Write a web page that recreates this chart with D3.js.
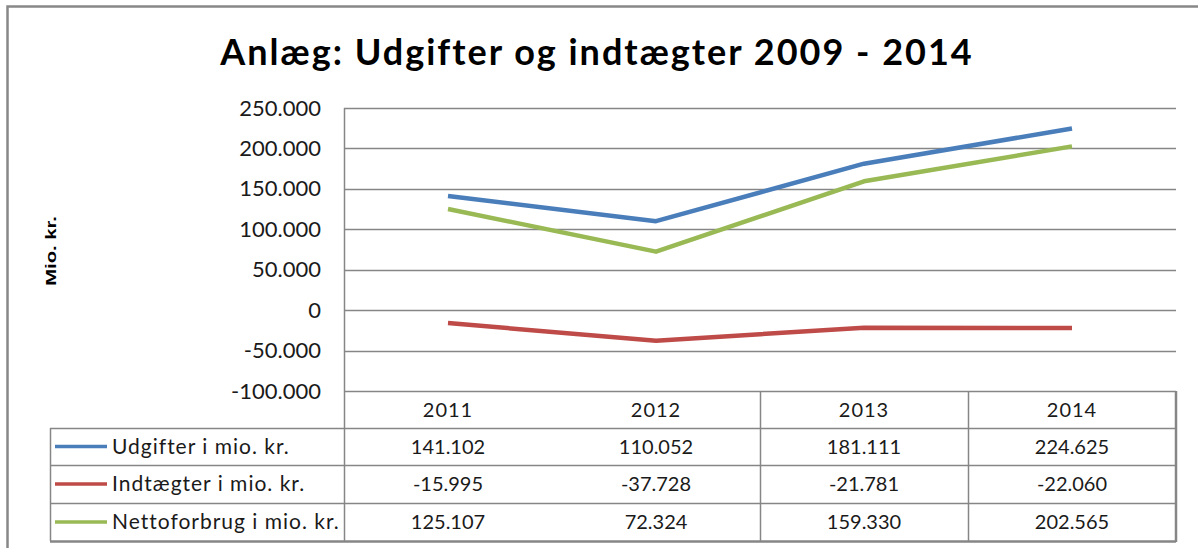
<!DOCTYPE html>
<html>
<head>
<meta charset="utf-8">
<script src="https://cdn.jsdelivr.net/npm/d3@7"></script>
<style>
  body { margin: 0; background: #fff; }
  text { font-family: Lato, "Open Sans", sans-serif; fill: #1a1a1a; }
</style>
</head>
<body>
<div id="chart"></div>
<script>
const years = ["2011", "2012", "2013", "2014"];
const seriesNames = ["Udgifter i mio. kr.", "Indtægter i mio. kr.", "Nettoforbrug i mio. kr."];
const udgifter = [141102, 110052, 181111, 224625];
const indtaegter = [-15995, -37728, -21781, -22060];
const netto = [125107, 72324, 159330, 202565];
const seriesColors = ["#4a7ebb", "#be4b48", "#98b954"];
const yTicks = [-100000, -50000, 0, 50000, 100000, 150000, 200000, 250000];

const series = [udgifter, indtaegter, netto];

const W = 1198, H = 548;
const plot = { left: 344, right: 1176, top: 108, bottom: 391 };
const rowLines = [391, 428, 465, 503, 541];
const tableLeft = 50;

const dk = d3.formatLocale({ decimal: ",", thousands: ".", grouping: [3], currency: ["", " kr."], minus: "-" });
const fmt = dk.format(",d");

const svg = d3.select("#chart")
    .append("svg")
    .attr("width", W)
    .attr("height", H);

// outer frame (only left and top visible in the crop)
svg.append("path")
    .attr("d", `M7.5,${H} V6.5 H${W}`)
    .attr("fill", "none")
    .attr("stroke", "#888")
    .attr("stroke-width", 2.5);

svg.append("text")
    .attr("x", 597)
    .attr("y", 65)
    .attr("text-anchor", "middle")
    .style("font-size", "36px")
    .style("font-weight", "bold")
    .style("letter-spacing", "2px")
    .style("fill", "#000")
    .text("Anlæg: Udgifter og indtægter 2009 - 2014");

const x = d3.scaleBand()
    .domain(years)
    .range([plot.left, plot.right]);

const y = d3.scaleLinear()
    .domain([-100000, 250000])
    .range([plot.bottom, plot.top]);

// gridlines
svg.append("g")
    .selectAll("line")
    .data(yTicks)
    .join("line")
    .attr("x1", plot.left)
    .attr("x2", plot.right)
    .attr("y1", d => Math.round(y(d)) + 0.5)
    .attr("y2", d => Math.round(y(d)) + 0.5)
    .attr("stroke", "#868686")
    .attr("stroke-width", 1.5);

// y axis labels
const yAxis = svg.append("g")
    .attr("transform", `translate(${plot.left},0)`)
    .call(d3.axisLeft(y).tickValues(yTicks).tickFormat(fmt).tickSize(0).tickPadding(23));
yAxis.select(".domain").remove();
yAxis.selectAll("text")
    .style("font-size", "22px")
    .style("font-family", "Lato, sans-serif")
    .attr("fill", "#1a1a1a");

// stretched along the text direction, like the source
svg.append("text")
    .attr("transform", "translate(56,251) rotate(-90) scale(1.35,1)")
    .attr("text-anchor", "middle")
    .style("font-size", "15px")
    .style("font-weight", "bold")
    .style("font-family", "'Liberation Sans', Arial, sans-serif")
    .style("fill", "#000")
    .text("Mio. kr.");

// table lines
const tbl = svg.append("g")
    .attr("stroke", "#868686")
    .attr("stroke-width", 1.5)
    .attr("fill", "none");

tbl.append("line")
    .attr("x1", plot.left + 0.5).attr("x2", plot.left + 0.5)
    .attr("y1", plot.top).attr("y2", rowLines[4]);

tbl.selectAll(".hline")
    .data(rowLines.slice(1))
    .join("line")
    .attr("x1", tableLeft)
    .attr("x2", plot.right)
    .attr("y1", d => d + 0.5)
    .attr("y2", d => d + 0.5)
    .attr("stroke-width", (d, i) => i === 3 ? 2.5 : 1.5);

tbl.append("line")
    .attr("x1", tableLeft + 0.5).attr("x2", tableLeft + 0.5)
    .attr("y1", rowLines[1]).attr("y2", rowLines[4]);

tbl.selectAll(".vline")
    .data(years.slice(2))
    .join("line")
    .attr("x1", d => x(d) + 0.5)
    .attr("x2", d => x(d) + 0.5)
    .attr("y1", rowLines[0])
    .attr("y2", rowLines[4]);

tbl.append("line")
    .attr("x1", plot.right).attr("x2", plot.right)
    .attr("y1", rowLines[0]).attr("y2", rowLines[4] + 1)
    .attr("stroke-width", 2.5);

// header years
svg.append("g")
    .selectAll("text")
    .data(years)
    .join("text")
    .attr("x", d => x(d) + x.bandwidth() / 2)
    .attr("y", (rowLines[0] + rowLines[1]) / 2 + 7)
    .attr("text-anchor", "middle")
    .style("font-size", "20px")
    .style("letter-spacing", "1px")
    .text(d => d);

// series lines
const line = d3.line()
    .x((d, i) => x(years[i]) + x.bandwidth() / 2)
    .y(d => y(d));

svg.append("g")
    .selectAll("path")
    .data(series)
    .join("path")
    .attr("d", line)
    .attr("fill", "none")
    .attr("stroke", (d, i) => seriesColors[i])
    .attr("stroke-width", 4.5)
    .attr("stroke-linejoin", "round");

// table rows: legend key + values
const rows = svg.append("g")
    .selectAll("g")
    .data(series)
    .join("g")
    .attr("transform", (d, i) => `translate(0,${(rowLines[i + 1] + rowLines[i + 2]) / 2})`);

rows.append("line")
    .attr("x1", 55)
    .attr("x2", 107)
    .attr("y1", 0)
    .attr("y2", 0)
    .attr("stroke", (d, i) => seriesColors[i])
    .attr("stroke-width", 3.5);

rows.append("text")
    .attr("x", 112)
    .attr("y", 7)
    .style("font-size", "21px")
    .style("letter-spacing", "1px")
    .text((d, i) => seriesNames[i]);

rows.selectAll(".val")
    .data(d => d)
    .join("text")
    .attr("x", (d, i) => x(years[i]) + x.bandwidth() / 2)
    .attr("y", 7)
    .attr("text-anchor", "middle")
    .style("font-size", "20px")
    .text(d => fmt(d));
</script>
</body>
</html>
